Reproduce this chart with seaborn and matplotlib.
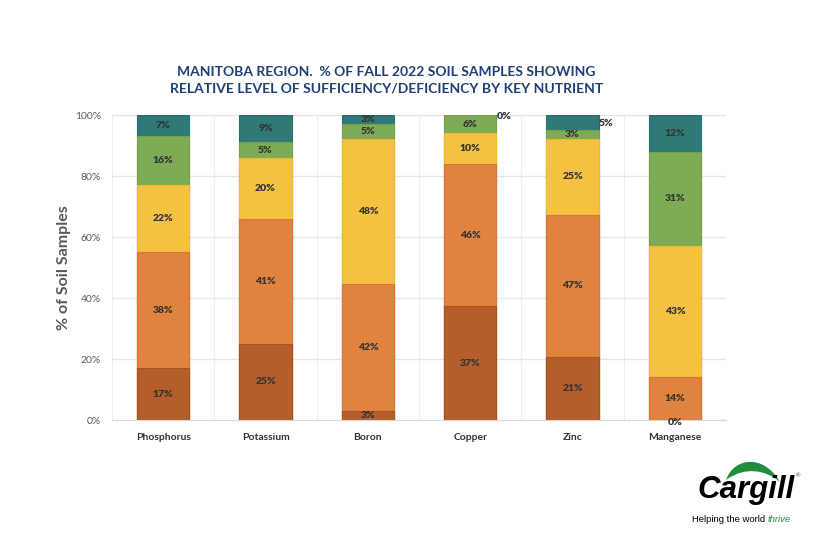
import numpy as np
import pandas as pd
import seaborn as sns
import matplotlib.pyplot as plt
from matplotlib.path import Path
from matplotlib.patches import PathPatch

# 各營養素類別
nutrients = ['Phosphorus', 'Potassium', 'Boron', 'Copper', 'Zinc', 'Manganese']

# 由下而上的各等級百分比
level1 = [17, 25, 3, 37, 21, 0]
level2 = [38, 41, 42, 46, 47, 14]
level3 = [22, 20, 48, 10, 25, 43]
level4 = [16, 5, 5, 6, 3, 31]
level5 = [7, 9, 3, 0, 5, 12]

colors = ['#B65E2B', '#E0833F', '#F5C141', '#7EAB55', '#2F7A78']
edges = ['#A8521F', '#D9773A', '#F0B830', '#74A04B', '#25706E']

levels = [level1, level2, level3, level4, level5]
vals = np.array(levels, dtype=float)
pct = vals / vals.sum(axis=0) * 100
cum = pct.cumsum(axis=0)

sns.set_style('white')
plt.rcParams['font.family'] = ['Lato', 'DejaVu Sans']

fig = plt.figure(figsize=(8.13, 5.58), dpi=100)
ax = fig.add_axes([0.1378, 0.2473, 0.7552, 0.5466])

# 由最高的累積值開始畫，後畫的覆蓋前面的
for i in range(4, -1, -1):
    df = pd.DataFrame({'nutrient': nutrients, 'value': cum[i]})
    sns.barplot(data=df, x='nutrient', y='value', color=colors[i], width=0.51,
                edgecolor=edges[i], linewidth=0.8, saturation=1, ax=ax)

# 標籤
for j in range(len(nutrients)):
    for i in range(5):
        mid = cum[i, j] - pct[i, j] / 2
        x = j
        if nutrients[j] == 'Copper' and i == 4:
            x, mid = j + 0.33, 99.5
        elif nutrients[j] == 'Zinc' and i == 4:
            x, mid = j + 0.33, 97.3
        elif nutrients[j] == 'Manganese' and i == 0:
            mid = -0.8
        ax.text(x, mid, f'{levels[i][j]}%', ha='center', va='center', fontsize=7.5,
                fontweight='heavy', color='#333333')

ax.set_ylim(0, 100)
ax.set_xlim(-0.5, 5.5)
ax.set_yticks([0, 20, 40, 60, 80, 100])
ax.set_yticklabels([f'{t}%' for t in [0, 20, 40, 60, 80, 100]])
ax.tick_params(axis='both', labelsize=7.5, length=0)
ax.tick_params(axis='x', pad=9, colors='#333333')
ax.tick_params(axis='y', pad=8, colors='#595959')
for lab in ax.get_xticklabels():
    lab.set_fontweight('bold')
ax.set_xlabel('')
ax.set_ylabel('% of Soil Samples', fontsize=11.5, fontweight='bold', color='#595959',
              labelpad=3)

ax.set_axisbelow(True)
ax.yaxis.grid(True, color='#E6E6E6', linewidth=1)
for b in np.arange(-0.5, 6, 1):
    ax.axvline(b, color='#EFEFEF', linewidth=0.8, zorder=0)
for s in ['top', 'right', 'left']:
    ax.spines[s].set_visible(False)
ax.spines['bottom'].set_color('#D9D9D9')

fig.text(0.475, 0.857, 'MANITOBA REGION.  % OF FALL 2022 SOIL SAMPLES SHOWING\n'
         'RELATIVE LEVEL OF SUFFICIENCY/DEFICIENCY BY KEY NUTRIENT',
         ha='center', va='center', fontsize=10, fontweight='bold',
         color='#1F3F75', linespacing=1.45)

# Cargill logo (座標以像素計)
lx = fig.add_axes([680 / 813, 1 - 540 / 558, 133 / 813, 90 / 558])
lx.set_xlim(680, 813)
lx.set_ylim(540, 450)
lx.axis('off')
swoosh = Path([(726, 480), (734, 457), (764, 454), (780, 482),
               (766, 470), (745, 466), (726, 480), (726, 480)],
              [Path.MOVETO, Path.CURVE4, Path.CURVE4, Path.CURVE4,
               Path.CURVE4, Path.CURVE4, Path.CURVE4, Path.CLOSEPOLY])
lx.add_patch(PathPatch(swoosh, facecolor='#1E8E3E', edgecolor='none'))
lx.text(746, 490, 'Cargill', ha='center', va='center', fontsize=22.5, fontweight='bold',
        style='italic', color='black', family=['Liberation Sans', 'DejaVu Sans'])
lx.text(798, 476, '®', ha='center', va='center', fontsize=4, color='#555555')
t1 = lx.text(692, 519.5, 'Helping the world ', ha='left', va='center', fontsize=6.8,
             color='black', family=['Liberation Sans', 'DejaVu Sans'])
lx.annotate('thrive', xy=(1, 0.5), xycoords=t1, ha='left', va='center', fontsize=6.8,
            style='italic', color='#1E8E3E', family=['Liberation Sans', 'DejaVu Sans'])

plt.savefig('out.png', dpi=100)
